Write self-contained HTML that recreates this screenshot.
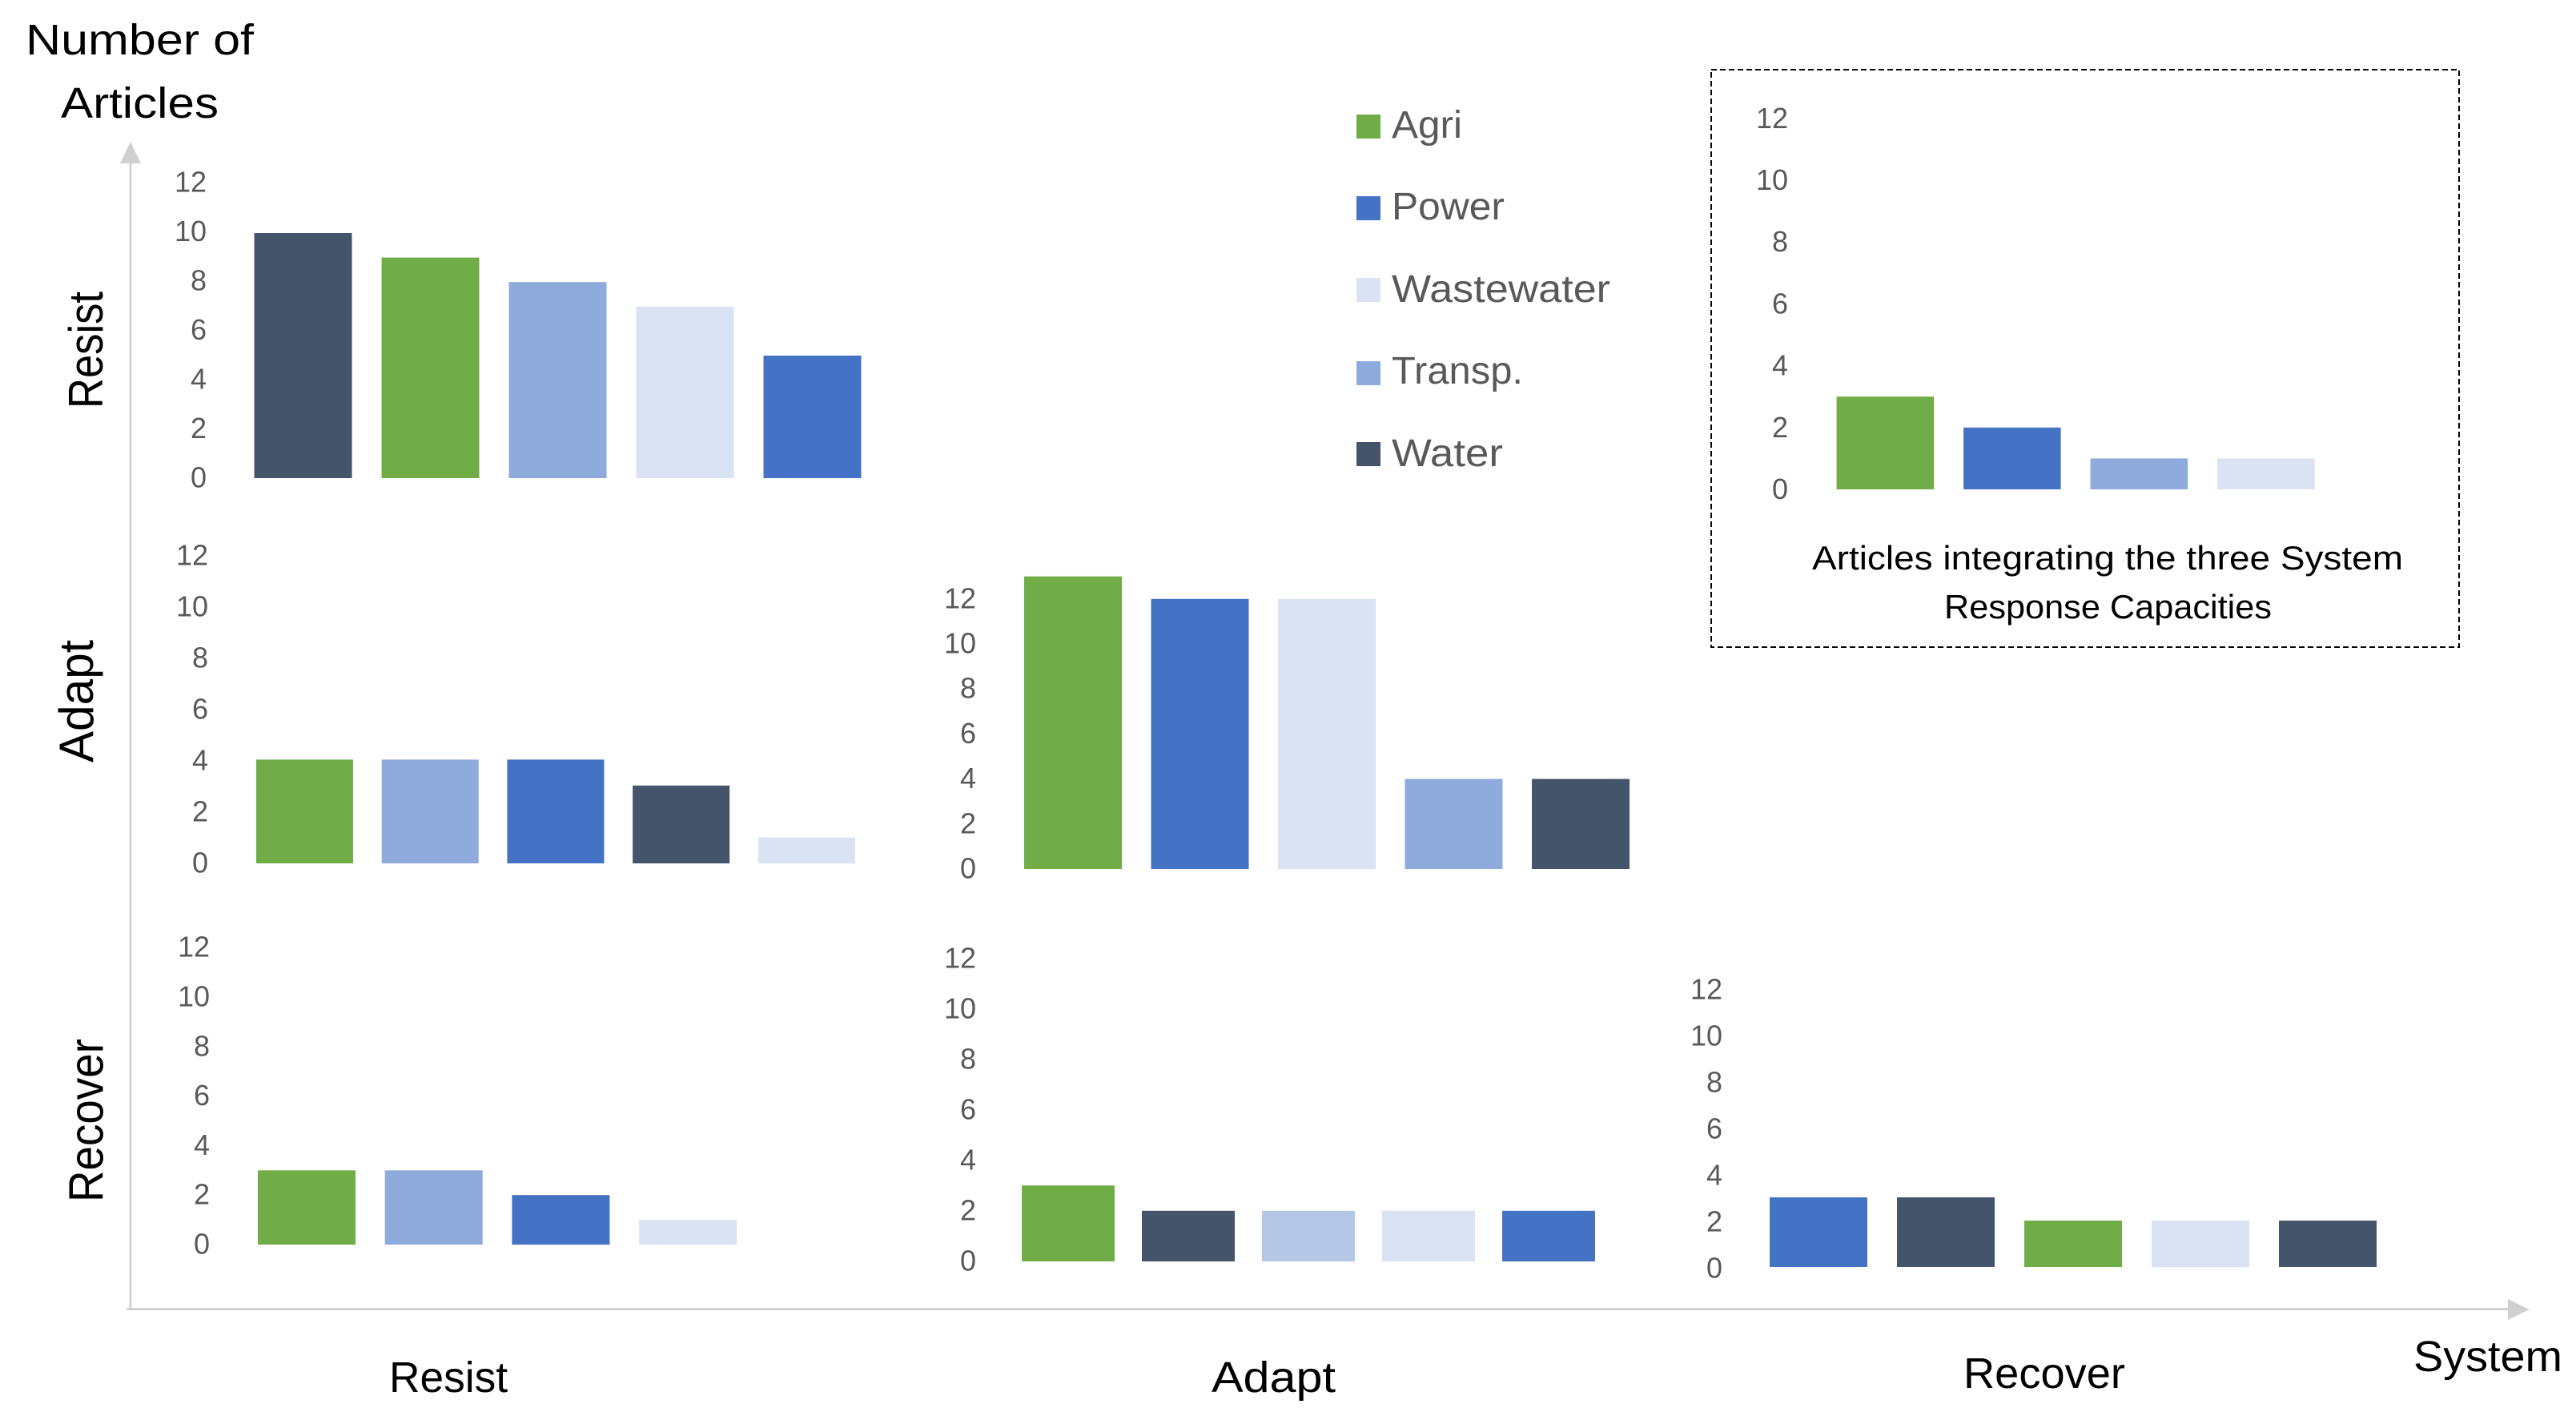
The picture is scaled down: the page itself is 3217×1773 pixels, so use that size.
<!DOCTYPE html>
<html lang="en">
<head>
<meta charset="utf-8">
<title>Number of articles by system response capacity</title>
<style>
  html, body { margin: 0; padding: 0; background: #ffffff; }
  svg { display: block; }
  text { font-family: "Liberation Sans", sans-serif; }
  .title { font-size: 54px; fill: #000000; }
  .row-title { font-size: 60px; fill: #000000; }
  .legend-text { font-size: 48px; fill: #595959; }
  .inset-text { font-size: 42px; fill: #000000; }
  .tick { font-size: 36px; fill: #595959; }
</style>
</head>
<body>
<svg id="chart" xmlns="http://www.w3.org/2000/svg" width="3217" height="1773" viewBox="0 0 3217 1773">
  <rect x="0" y="0" width="3217" height="1773" fill="#ffffff"/>

  <line x1="163" y1="200" x2="163" y2="1634" stroke="#cccccc" stroke-width="2.5"/>
  <polygon points="163,177 150,204 176,204" fill="#d0d0d0"/>
  <line x1="158" y1="1634.5" x2="3136" y2="1634.5" stroke="#d0d0d0" stroke-width="3"/>
  <polygon points="3159,1635 3132,1622 3132,1648" fill="#d0d0d0"/>

  <text class="title" x="32" y="68" textLength="285" lengthAdjust="spacingAndGlyphs">Number of</text>
  <text class="title" x="76" y="147" textLength="197" lengthAdjust="spacingAndGlyphs">Articles</text>
  <text class="title" x="3014" y="1712" textLength="186" lengthAdjust="spacingAndGlyphs">System</text>

  <text class="title" x="486" y="1738" textLength="148" lengthAdjust="spacingAndGlyphs">Resist</text>
  <text class="title" x="1513" y="1738" textLength="155" lengthAdjust="spacingAndGlyphs">Adapt</text>
  <text class="title" x="2452" y="1733" textLength="202" lengthAdjust="spacingAndGlyphs">Recover</text>

  <text class="row-title" transform="translate(128 510) rotate(-90)" textLength="146" lengthAdjust="spacingAndGlyphs">Resist</text>
  <text class="row-title" transform="translate(116 952) rotate(-90)" textLength="153" lengthAdjust="spacingAndGlyphs">Adapt</text>
  <text class="row-title" transform="translate(128.5 1501) rotate(-90)" textLength="204" lengthAdjust="spacingAndGlyphs">Recover</text>

  <g>
    <rect x="1694" y="143" width="30" height="30" fill="#70ad47"/>
    <text class="legend-text" x="1738" y="172" textLength="88" lengthAdjust="spacingAndGlyphs">Agri</text>
    <rect x="1694" y="245" width="30" height="30" fill="#4472c4"/>
    <text class="legend-text" x="1738" y="274" textLength="141" lengthAdjust="spacingAndGlyphs">Power</text>
    <rect x="1694" y="347" width="30" height="30" fill="#dae3f3"/>
    <text class="legend-text" x="1738" y="377" textLength="273" lengthAdjust="spacingAndGlyphs">Wastewater</text>
    <rect x="1694" y="451" width="30" height="30" fill="#8faadc"/>
    <text class="legend-text" x="1738" y="479" textLength="164" lengthAdjust="spacingAndGlyphs">Transp.</text>
    <rect x="1694" y="552" width="30" height="30" fill="#44546a"/>
    <text class="legend-text" x="1738" y="582" textLength="139" lengthAdjust="spacingAndGlyphs">Water</text>
  </g>

  <rect x="2137" y="87" width="934" height="721" fill="none" stroke="#000000" stroke-width="2" stroke-dasharray="7 4"/>
  <text class="inset-text" x="2263" y="711" textLength="738" lengthAdjust="spacingAndGlyphs">Articles integrating the three System</text>
  <text class="inset-text" x="2428" y="772" textLength="409" lengthAdjust="spacingAndGlyphs">Response Capacities</text>

  <g id="panels"></g>
</svg>

<script>
const tickValues = [0, 2, 4, 6, 8, 10, 12];

const resistResistCategories = ['Water', 'Agri', 'Transp.', 'Wastewater', 'Power'];
const resistResistValues = [10, 9, 8, 7, 5];

const adaptResistCategories = ['Agri', 'Transp.', 'Power', 'Water', 'Wastewater'];
const adaptResistValues = [4, 4, 4, 3, 1];

const recoverResistCategories = ['Agri', 'Transp.', 'Power', 'Wastewater'];
const recoverResistValues = [3, 3, 2, 1];

const adaptAdaptCategories = ['Agri', 'Power', 'Wastewater', 'Transp.', 'Water'];
const adaptAdaptValues = [13, 12, 12, 4, 4];

const recoverAdaptCategories = ['Agri', 'Water', 'Transp. light', 'Wastewater', 'Power'];
const recoverAdaptValues = [3, 2, 2, 2, 2];

const recoverRecoverCategories = ['Power', 'Water', 'Agri', 'Wastewater', 'Water'];
const recoverRecoverValues = [3, 3, 2, 2, 2];

const integratedCategories = ['Agri', 'Power', 'Transp.', 'Wastewater'];
const integratedValues = [3, 2, 1, 1];

const categoryColors = {
  'Agri': '#70ad47',
  'Power': '#4472c4',
  'Wastewater': '#dae3f3',
  'Transp.': '#8faadc',
  'Transp. light': '#b4c7e7',
  'Water': '#44546a'
};

const panels = [
  { id: 'resist-resist', cats: resistResistCategories, vals: resistResistValues, left: 317.5, pitch: 159, width: 122, base: 597, unit: 30.6, tickBase: 596, tickUnit: 30.75, tickRight: 258 },
  { id: 'adapt-resist', cats: adaptResistCategories, vals: adaptResistValues, left: 320, pitch: 156.7, width: 121, base: 1078, unit: 32.4, tickBase: 1077, tickUnit: 32, tickRight: 260 },
  { id: 'recover-resist', cats: recoverResistCategories, vals: recoverResistValues, left: 322, pitch: 158.7, width: 122, base: 1554, unit: 30.9, tickBase: 1553, tickUnit: 30.9, tickRight: 262 },
  { id: 'adapt-adapt', cats: adaptAdaptCategories, vals: adaptAdaptValues, left: 1279, pitch: 158.5, width: 122, base: 1085, unit: 28.1, tickBase: 1084, tickUnit: 28.1, tickRight: 1219 },
  { id: 'recover-adapt', cats: recoverAdaptCategories, vals: recoverAdaptValues, left: 1276, pitch: 150, width: 116, base: 1575, unit: 31.6, tickBase: 1574, tickUnit: 31.5, tickRight: 1219 },
  { id: 'recover-recover', cats: recoverRecoverCategories, vals: recoverRecoverValues, left: 2210, pitch: 159, width: 122, base: 1582, unit: 29, tickBase: 1583, tickUnit: 29, tickRight: 2151 },
  { id: 'integrated', cats: integratedCategories, vals: integratedValues, left: 2293.6, pitch: 158.5, width: 121.5, base: 611, unit: 38.6, tickBase: 610.5, tickUnit: 38.6, tickRight: 2233 }
];

const SVG_NS = 'http://www.w3.org/2000/svg';
const panelRoot = document.getElementById('panels');

function xScale(panel, index) {
  return panel.left + index * panel.pitch;
}

function yScale(panel, value) {
  return panel.base - value * panel.unit;
}

function tickScale(panel, value) {
  return panel.tickBase - value * panel.tickUnit;
}

panels.forEach(function (panel) {
  const group = document.createElementNS(SVG_NS, 'g');
  
  

  tickValues.forEach(function (tick) {
    const label = document.createElementNS(SVG_NS, 'text');
    label.setAttribute('class', 'tick');
    label.setAttribute('x', panel.tickRight);
    label.setAttribute('y', tickScale(panel, tick) + 12.5);
    label.setAttribute('text-anchor', 'end');
    label.textContent = String(tick);
    
    
    group.appendChild(label);
  });

  panel.vals.forEach(function (value, index) {
    const category = panel.cats[index];
    const bar = document.createElementNS(SVG_NS, 'rect');
    bar.setAttribute('x', xScale(panel, index));
    bar.setAttribute('y', yScale(panel, value));
    bar.setAttribute('width', panel.width);
    bar.setAttribute('height', panel.base - yScale(panel, value));
    bar.setAttribute('fill', categoryColors[category]);
    
    
    group.appendChild(bar);
  });

  panelRoot.appendChild(group);
});
</script>
</body>
</html>
